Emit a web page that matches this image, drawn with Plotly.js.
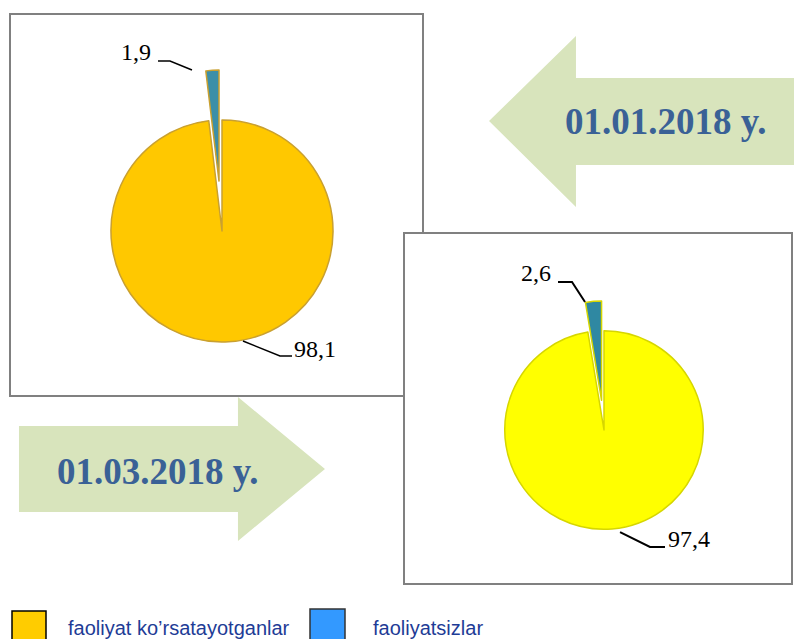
<!DOCTYPE html>
<html>
<head>
<meta charset="utf-8">
<script src="https://cdn.plot.ly/plotly-3.0.1.min.js"></script>
<style>
  html, body { margin: 0; padding: 0; background: #ffffff; }
  #chart { width: 794px; height: 639px; }
</style>
</head>
<body>
<div id="chart"></div>
<script>
// ---- data ----
const categories = ["faoliyat ko\u2019rsatayotganlar", "faoliyatsizlar"];
const valuesJan = [98.1, 1.9];
const valuesMar = [97.4, 2.6];
const dateLabels = ["01.01.2018 y.", "01.03.2018 y."];
const legendColors = ["#FFCC00", "#3399FF"];

// ---- helpers (pixel -> paper) ----
const W = 794, H = 639;
const X = p => p / W;
const Y = p => 1 - p / H;
const fmt = v => v.toFixed(1).replace('.', ',');
function path(points, close) {
  return points.map((p, i) => (i ? 'L' : 'M') + X(p[0]).toFixed(4) + ',' + Y(p[1]).toFixed(4)).join(' ') + (close ? ' Z' : '');
}

const pieJan = {
  type: 'pie',
  labels: categories,
  values: valuesJan,
  sort: false,
  direction: 'clockwise',
  rotation: 0,
  pull: [0, 0.45],
  textinfo: 'none',
  hoverinfo: 'label+value',
  showlegend: false,
  marker: { colors: ['#FFC800', '#3C8FA8'], line: { color: '#C9A030', width: 1.5 } },
  domain: { x: [X(61), X(383)], y: [Y(392), Y(70)] }
};
const pieMar = {
  type: 'pie',
  labels: categories,
  values: valuesMar,
  sort: false,
  direction: 'clockwise',
  rotation: 0,
  pull: [0, 0.3],
  textinfo: 'none',
  hoverinfo: 'label+value',
  showlegend: false,
  marker: { colors: ['#FFFF00', '#2F88A2'], line: { color: '#D6D600', width: 1.5 } },
  domain: { x: [X(475), X(733)], y: [Y(559), Y(301)] }
};

const arrowFill = '#D8E4BC';
const shapes = [
  // arrow pointing left (01.01.2018)
  { type: 'path', xref: 'paper', yref: 'paper', layer: 'below',
    path: path([[489,121],[576,36],[576,78],[794,78],[794,165],[576,165],[576,207]], true),
    fillcolor: arrowFill, line: { width: 0 } },
  // arrow pointing right (01.03.2018)
  { type: 'path', xref: 'paper', yref: 'paper', layer: 'below',
    path: path([[19,426],[238,426],[238,397],[325,469],[238,541],[238,512],[19,512]], true),
    fillcolor: arrowFill, line: { width: 0 } },
  // box 1
  { type: 'rect', xref: 'paper', yref: 'paper', layer: 'below',
    x0: X(10), x1: X(423), y0: Y(396), y1: Y(14),
    fillcolor: '#FFFFFF', line: { color: '#808080', width: 2 } },
  // box 2
  { type: 'rect', xref: 'paper', yref: 'paper', layer: 'below',
    x0: X(404), x1: X(792), y0: Y(584), y1: Y(233),
    fillcolor: '#FFFFFF', line: { color: '#808080', width: 2 } },
  // leader lines
  { type: 'path', xref: 'paper', yref: 'paper', path: path([[158,61],[170,61],[192,70]]), line: { color: '#000', width: 1.5 } },
  { type: 'path', xref: 'paper', yref: 'paper', path: path([[243,341],[280,356],[292,356]]), line: { color: '#000', width: 1.5 } },
  { type: 'path', xref: 'paper', yref: 'paper', path: path([[558,282],[572,282],[585,302]]), line: { color: '#000', width: 2 } },
  { type: 'path', xref: 'paper', yref: 'paper', path: path([[620,532],[650,547],[665,547]]), line: { color: '#000', width: 2 } },
  // legend squares
  { type: 'rect', xref: 'paper', yref: 'paper', x0: X(12), x1: X(46), y0: Y(646), y1: Y(611),
    fillcolor: legendColors[0], line: { color: '#000', width: 1.5 } },
  { type: 'rect', xref: 'paper', yref: 'paper', x0: X(310), x1: X(345), y0: Y(646), y1: Y(609),
    fillcolor: legendColors[1], line: { color: '#333', width: 1.5 } }
];

const valFont = { family: 'Liberation Serif, Times New Roman, serif', size: 24, color: '#000' };
const dateFont = { family: 'Liberation Serif, Times New Roman, serif', size: 37, color: '#3A6196', weight: 'bold' };
const legFont = { family: 'Liberation Sans, Arial, sans-serif', size: 20, color: '#1E3C96' };

const annotations = [
  { text: '<b>' + dateLabels[0] + '</b>', x: X(665), y: Y(121), xref: 'paper', yref: 'paper', showarrow: false, xanchor: 'center', yanchor: 'middle', font: dateFont },
  { text: '<b>' + dateLabels[1] + '</b>', x: X(157), y: Y(471), xref: 'paper', yref: 'paper', showarrow: false, xanchor: 'center', yanchor: 'middle', font: dateFont },
  { text: fmt(valuesJan[1]), x: X(153), y: Y(52), xref: 'paper', yref: 'paper', showarrow: false, xanchor: 'right', yanchor: 'middle', font: valFont },
  { text: fmt(valuesJan[0]), x: X(292), y: Y(349), xref: 'paper', yref: 'paper', showarrow: false, xanchor: 'left', yanchor: 'middle', font: valFont },
  { text: fmt(valuesMar[1]), x: X(553), y: Y(273), xref: 'paper', yref: 'paper', showarrow: false, xanchor: 'right', yanchor: 'middle', font: valFont },
  { text: fmt(valuesMar[0]), x: X(666), y: Y(539), xref: 'paper', yref: 'paper', showarrow: false, xanchor: 'left', yanchor: 'middle', font: valFont },
  { text: categories[0], x: X(66), y: Y(628), xref: 'paper', yref: 'paper', showarrow: false, xanchor: 'left', yanchor: 'middle', font: legFont },
  { text: categories[1], x: X(371), y: Y(628), xref: 'paper', yref: 'paper', showarrow: false, xanchor: 'left', yanchor: 'middle', font: legFont }
];

const layout = {
  width: W, height: H,
  margin: { l: 0, r: 0, t: 0, b: 0 },
  paper_bgcolor: '#FFFFFF',
  plot_bgcolor: '#FFFFFF',
  showlegend: false,
  shapes: shapes,
  annotations: annotations
};

Plotly.newPlot('chart', [pieJan, pieMar], layout, { displayModeBar: false, staticPlot: true });
</script>
</body>
</html>
